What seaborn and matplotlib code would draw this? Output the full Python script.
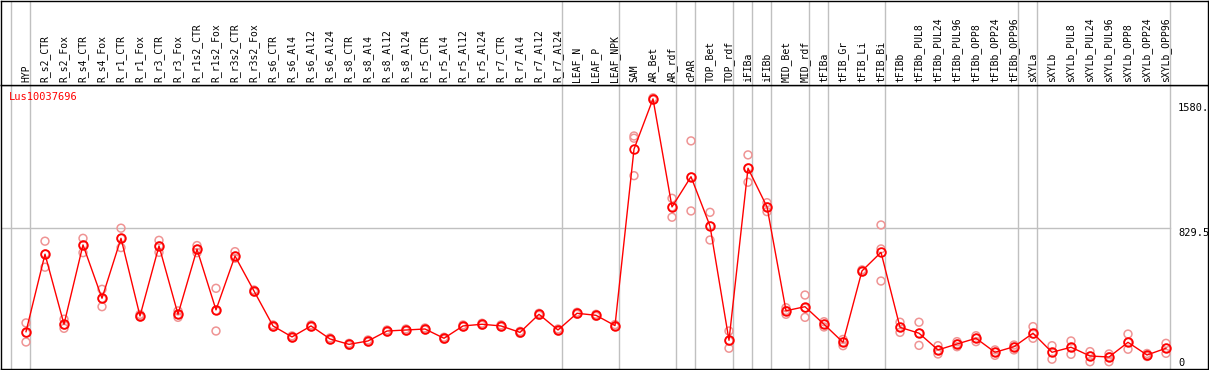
import numpy as np
import pandas as pd
import matplotlib
matplotlib.use("Agg")
import matplotlib.pyplot as plt
import seaborn as sns

samples = ["HYP", "R_s2_CTR", "R_s2_Fox", "R_s4_CTR", "R_s4_Fox", "R_r1_CTR", "R_r1_Fox",
           "R_r3_CTR", "R_r3_Fox", "R_r1s2_CTR", "R_r1s2_Fox", "R_r3s2_CTR", "R_r3s2_Fox",
           "R_s6_CTR", "R_s6_Al4", "R_s6_Al12", "R_s6_Al24", "R_s8_CTR", "R_s8_Al4",
           "R_s8_Al12", "R_s8_Al24", "R_r5_CTR", "R_r5_Al4", "R_r5_Al12", "R_r5_Al24",
           "R_r7_CTR", "R_r7_Al4", "R_r7_Al12", "R_r7_Al24", "LEAF_N", "LEAF_P", "LEAF_NPK",
           "SAM", "AR_Bet", "AR_rdf", "cPAR", "TOP_Bet", "TOP_rdf", "iFIBa", "iFIBb",
           "MID_Bet", "MID_rdf", "tFIBa", "tFIB_Gr", "tFIB_Li", "tFIB_Bi", "tFIBb",
           "tFIBb_PUL8", "tFIBb_PUL24", "tFIBb_PUL96", "tFIBb_OPP8", "tFIBb_OPP24",
           "tFIBb_OPP96", "sXYLa", "sXYLb", "sXYLb_PUL8", "sXYLb_PUL24", "sXYLb_PUL96",
           "sXYLb_OPP8", "sXYLb_OPP24", "sXYLb_OPP96"]

means = [215, 674, 259, 729, 413, 768, 308, 723, 318, 703, 344, 663, 456,
         249, 184, 249, 172, 140, 160, 219, 225, 231, 176, 249, 259, 249, 211, 318, 225,
         324, 312, 251,
         1296, 1594, 954, 1133, 841, 164, 1183, 954, 339, 363, 259, 152, 575, 685,
         241, 206, 107, 142, 176, 93, 126,
         206, 93, 123, 71, 65, 152, 77, 117]

rep_a = [267, 751, 289, 768, 466, 828, 317, 756, 338, 725, 472, 689, 462,
         255, 190, 255, 178, 146, 166, 225, 231, 237, 182, 255, 265, 255, 217, 324, 231,
         330, 318, 257,
         1374, 1600, 1005, 1345, 922, 219, 1262, 979, 357, 432, 274, 169, 581, 847,
         271, 271, 132, 156, 191, 107, 136,
         245, 132, 160, 97, 83, 201, 86, 146]

rep_b = [207, 675, 255, 729, 412, 767, 308, 723, 317, 702, 341, 663, 456,
         249, 184, 249, 172, 140, 160, 219, 225, 231, 176, 249, 259, 249, 211, 318, 225,
         324, 312, 251,
         1361, 1594, 954, 1131, 841, 160, 1185, 954, 341, 355, 259, 154, 575, 705,
         241, 206, 105, 142, 176, 93, 124,
         201, 93, 123, 71, 67, 152, 77, 117]

rep_c = [154, 597, 235, 683, 363, 713, 302, 685, 300, 683, 219, 650, 450,
         243, 178, 243, 166, 134, 154, 213, 219, 225, 170, 243, 253, 243, 205, 312, 219,
         318, 306, 245,
         1139, 1588, 893, 930, 758, 117, 1100, 926, 318, 300, 243, 132, 569, 515,
         211, 134, 83, 126, 156, 75, 107,
         176, 52, 81, 37, 37, 111, 68, 87]

# group boundaries (vertical grey lines sit just right of these samples)
boundaries = [-1, 0, 28, 31, 34, 35, 37, 38, 39, 41, 42, 45, 52, 53, 60]

pos = np.arange(len(samples))
reps = pd.DataFrame({
    "pos": np.concatenate([pos, pos, pos]),
    "value": np.concatenate([rep_a, rep_b, rep_c]),
})

W, H = 1209, 370
fig = plt.figure(figsize=(W / 100, H / 100), dpi=100)
xlim = ((1 - 26) / 19, (1208 - 26) / 19)

ax = fig.add_axes([1 / W, 1 / H, 1207 / W, 284 / H])
hdr = fig.add_axes([1 / W, 285 / H, 1207 / W, 84 / H])

grid_c = "#c0c0c0"
for b in boundaries:
    ax.axvline(b + 0.21, color=grid_c, lw=1, zorder=0)
    hdr.axvline(b + 0.21, color=grid_c, lw=1, zorder=0)
ax.plot([xlim[0], 60.21], [829.5, 829.5], color=grid_c, lw=1, zorder=0)

sns.scatterplot(data=reps, x="pos", y="value", ax=ax, marker="o", s=32,
                fc="none", ec="#ef9494", linewidth=1.1, zorder=2, legend=False)
sns.lineplot(x=pos, y=means, ax=ax, color="red", lw=1, marker="o", markersize=6.2,
             markerfacecolor="none", markeredgecolor="red", markeredgewidth=1.3,
             zorder=3, sort=False)

ax.set_xlim(xlim)
ax.set_ylim(-6, 1676)
ax.set_xticks([])
ax.set_yticks([])
ax.set_xlabel("")
ax.set_ylabel("")
for s in ax.spines.values():
    s.set_color("black")
    s.set_linewidth(1)

mono = "DejaVu Sans Mono"
for v, lab in [(1572, "1580."), (829.5, "829.5"), (57, "0")]:
    ax.text(60.63, v, lab, ha="left", va="top", fontsize=7.5, family=mono, color="black")

hdr.set_xlim(xlim)
hdr.set_ylim(0, 1)
hdr.set_xticks([])
hdr.set_yticks([])
for s in hdr.spines.values():
    s.set_color("black")
    s.set_linewidth(1)
for i, lab in enumerate(samples):
    hdr.text(i, 0.035, lab, rotation=90, ha="center", va="bottom",
             fontsize=7, family=mono, color="black")

fig.text(9 / W, 1 - 92 / H, "Lus10037696", ha="left", va="top",
         fontsize=7.5, family=mono, color="red")

fig.savefig("out.png", dpi=100)
